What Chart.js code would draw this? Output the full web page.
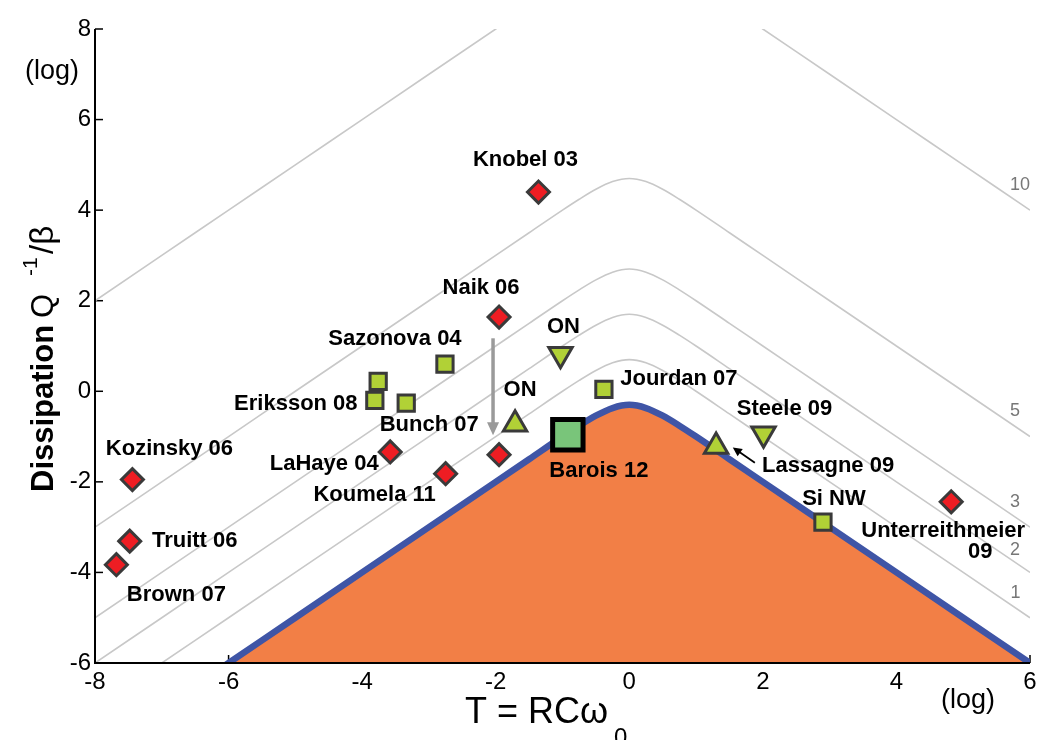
<!DOCTYPE html>
<html><head><meta charset="utf-8">
<script src="https://cdn.jsdelivr.net/npm/chart.js@4.4.0/dist/chart.umd.min.js"></script>
<style>html,body{margin:0;padding:0;background:#fff;overflow:hidden;} canvas{display:block;}</style>
</head><body>
<canvas id="c" width="1039" height="740"></canvas>
<script>
// ---------- data ----------
const xTicks = [-8, -6, -4, -2, 0, 2, 4, 6];
const yTicks = [-6, -4, -2, 0, 2, 4, 6, 8];

// x samples of the limit curve and of the iso-level curves (log T)
const curveX = [-8, -7, -6, -5, -4, -3, -2, -1.5, -1, -0.75, -0.5, -0.25, 0, 0.25, 0.5, 0.75, 1, 1.5, 2, 3, 4, 5, 6];
// limit (orange region boundary)
const limitY = [-8, -7, -6, -5, -4, -3, -2, -1.5, -1.0, -0.76, -0.54, -0.37, -0.30, -0.37, -0.54, -0.76, -1.0, -1.5, -2, -3, -4, -5, -6];
// grey iso-level curves, labelled 1, 2, 3, 5, 10
const level1Y = [-7, -6, -5, -4, -3, -2, -1, -0.5, 0.0, 0.24, 0.46, 0.63, 0.70, 0.63, 0.46, 0.24, 0.0, -0.5, -1, -2, -3, -4, -5];
const level2Y = [-6, -5, -4, -3, -2, -1, 0, 0.5, 1.0, 1.24, 1.46, 1.63, 1.70, 1.63, 1.46, 1.24, 1.0, 0.5, 0, -1, -2, -3, -4];
const level3Y = [-5, -4, -3, -2, -1, 0, 1, 1.5, 2.0, 2.24, 2.46, 2.63, 2.70, 2.63, 2.46, 2.24, 2.0, 1.5, 1, 0, -1, -2, -3];
const level5Y = [-3, -2, -1, 0, 1, 2, 3, 3.5, 4.0, 4.24, 4.46, 4.63, 4.70, 4.63, 4.46, 4.24, 4.0, 3.5, 3, 2, 1, 0, -1];
const level10Y = [2, 3, 4, 5, 6, 7, 8, 8.5, 9.0, 9.24, 9.46, 9.63, 9.70, 9.63, 9.46, 9.24, 9.0, 8.5, 8, 7, 6, 5, 4];
const levelNames = ['1', '2', '3', '5', '10'];

// experiments
const diamondNames = ['Knobel 03', 'Naik 06', 'Naik 06 b', 'LaHaye 04', 'Koumela 11', 'Kozinsky 06', 'Truitt 06', 'Brown 07', 'Unterreithmeier 09'];
const diamondX = [-1.36, -1.95, -1.95, -3.58, -2.75, -7.44, -7.48, -7.68, 4.82];
const diamondY = [4.40, 1.64, -1.40, -1.34, -1.82, -1.95, -3.31, -3.83, -2.44];

const squareNames = ['Sazonova 04', 'Eriksson 08 a', 'Eriksson 08 b', 'Bunch 07', 'Jourdan 07', 'Si NW'];
const squareX = [-2.76, -3.76, -3.81, -3.34, -0.38, 2.90];
const squareY = [0.60, 0.22, -0.20, -0.26, 0.04, -2.89];

const upNames = ['ON', 'Lassagne 09'];
const upX = [-1.71, 1.30];
const upY = [-0.73, -1.22];

const downNames = ['ON', 'Steele 09'];
const downX = [-1.03, 2.01];
const downY = [0.82, -0.94];

const baroisX = [-0.92];
const baroisY = [-0.96];

// Naik arrow (before -> after) and Lassagne pointer, in data units
const naikArrow = [[-2.04, 1.17], [-2.04, -0.97]];
const lassArrow = [[1.88, -1.58], [1.55, -1.24]];

// ---------- styling / annotation placement (pixel offsets from marker) ----------
const pointLabels = [
  {t: 'Knobel 03', s: 'd', i: 0, dx: -13, dy: -32},
  {t: 'Naik 06', s: 'd', i: 1, dx: -18, dy: -29},
  {t: 'LaHaye 04', s: 'd', i: 3, dx: -66, dy: 12},
  {t: 'Koumela 11', s: 'd', i: 4, dx: -71, dy: 21},
  {t: 'Kozinsky 06', s: 'd', i: 5, dx: 37, dy: -31},
  {t: 'Truitt 06', s: 'd', i: 6, dx: 65, dy: 0},
  {t: 'Brown 07', s: 'd', i: 7, dx: 60, dy: 30},
  {t: 'Unterreithmeier', s: 'd', i: 8, dx: -8, dy: 29},
  {t: '09', s: 'd', i: 8, dx: 29, dy: 50},
  {t: 'Sazonova 04', s: 'q', i: 0, dx: -50, dy: -25},
  {t: 'Eriksson 08', s: 'q', i: 2, dx: -79, dy: 4},
  {t: 'Bunch 07', s: 'q', i: 3, dx: 23, dy: 22},
  {t: 'Jourdan 07', s: 'q', i: 4, dx: 75, dy: -11},
  {t: 'Si NW', s: 'q', i: 5, dx: 11, dy: -23},
  {t: 'ON', s: 'u', i: 0, dx: 5, dy: -34},
  {t: 'Lassagne 09', s: 'u', i: 1, dx: 112, dy: 19},
  {t: 'ON', s: 'v', i: 0, dx: 3, dy: -27},
  {t: 'Steele 09', s: 'v', i: 1, dx: 21, dy: -25},
  {t: 'Barois 12', s: 'b', i: 0, dx: 31, dy: 36}
];
const levelLabelPos = [[1015.5, 593], [1015, 550], [1015, 502], [1015, 411], [1020, 185]];

const FONT = "'Liberation Sans', Arial, sans-serif";
const pts = (xs, ys) => xs.map((x, i) => ({x, y: ys[i]}));
const sets = {d: [diamondX, diamondY], q: [squareX, squareY], u: [upX, upY], v: [downX, downY], b: [baroisX, baroisY]};

const grey = (ys) => ({data: pts(curveX, ys), borderColor: '#c8c8c8', borderWidth: 1.6, pointRadius: 0,
  cubicInterpolationMode: 'monotone', fill: false, order: 10});
const GREEN = '#b1d136', EDGE = '#3a3a3a';
const marker = (xs, ys, style, r, bg, bc, bw, rot) => ({data: pts(xs, ys), showLine: false, pointStyle: style,
  pointRadius: r, pointHoverRadius: r, pointBackgroundColor: bg, pointBorderColor: bc, pointBorderWidth: bw,
  pointRotation: rot || 0, order: 1});

function arrow(ctx, x1, y1, x2, y2, color, lw, hl, hw) {
  const a = Math.atan2(y2 - y1, x2 - x1);
  ctx.strokeStyle = color; ctx.fillStyle = color; ctx.lineWidth = lw;
  ctx.beginPath(); ctx.moveTo(x1, y1);
  ctx.lineTo(x2 - hl * 0.8 * Math.cos(a), y2 - hl * 0.8 * Math.sin(a)); ctx.stroke();
  ctx.beginPath(); ctx.moveTo(x2, y2);
  ctx.lineTo(x2 - hl * Math.cos(a) + hw * Math.sin(a), y2 - hl * Math.sin(a) - hw * Math.cos(a));
  ctx.lineTo(x2 - hl * Math.cos(a) - hw * Math.sin(a), y2 - hl * Math.sin(a) + hw * Math.cos(a));
  ctx.closePath(); ctx.fill();
}

const deco = {
  id: 'deco',
  beforeDatasetsDraw(chart) {
    const {ctx, chartArea: a, scales: {x, y}} = chart;
    ctx.save(); ctx.strokeStyle = '#000'; ctx.lineWidth = 1.5;
    yTicks.forEach(v => { const p = y.getPixelForValue(v); ctx.beginPath(); ctx.moveTo(a.left, p); ctx.lineTo(a.left + 8, p); ctx.stroke(); });
    xTicks.forEach(v => { const p = x.getPixelForValue(v); ctx.beginPath(); ctx.moveTo(p, a.bottom); ctx.lineTo(p, a.bottom - 8); ctx.stroke(); });
    ctx.restore();
  },
  afterDatasetsDraw(chart) {
    const {ctx, chartArea: a, scales: {x, y}} = chart;
    ctx.save();
    // axes lines
    ctx.strokeStyle = '#000'; ctx.lineWidth = 2;
    ctx.beginPath(); ctx.moveTo(a.left, a.top); ctx.lineTo(a.left, a.bottom); ctx.lineTo(a.right, a.bottom); ctx.stroke();
    // arrows
    arrow(ctx, x.getPixelForValue(naikArrow[0][0]), y.getPixelForValue(naikArrow[0][1]),
      x.getPixelForValue(naikArrow[1][0]), y.getPixelForValue(naikArrow[1][1]), '#9a9a9a', 3.5, 13, 6);
    arrow(ctx, x.getPixelForValue(lassArrow[0][0]), y.getPixelForValue(lassArrow[0][1]),
      x.getPixelForValue(lassArrow[1][0]), y.getPixelForValue(lassArrow[1][1]), '#000', 1.8, 9, 4.5);
    // level labels
    ctx.fillStyle = '#777'; ctx.font = '18px ' + FONT; ctx.textAlign = 'center'; ctx.textBaseline = 'middle';
    levelNames.forEach((t, i) => ctx.fillText(t, levelLabelPos[i][0], levelLabelPos[i][1]));
    // point labels
    ctx.fillStyle = '#000'; ctx.font = 'bold 22px ' + FONT;
    pointLabels.forEach(l => {
      const [xs, ys] = sets[l.s];
      const px = x.getPixelForValue(xs[l.i]), py = y.getPixelForValue(ys[l.i]);
      ctx.fillText(l.t, px + l.dx, py + l.dy);
    });
    ctx.restore();
  },
  afterDraw(chart) {
    const {ctx} = chart;
    ctx.save(); ctx.fillStyle = '#000'; ctx.textBaseline = 'alphabetic'; ctx.textAlign = 'left';
    // y title
    ctx.save(); ctx.translate(53, 492); ctx.rotate(-Math.PI / 2);
    ctx.font = 'bold 31px ' + FONT; ctx.fillText('Dissipation', 0, 0);
    ctx.font = '31px ' + FONT; ctx.fillText('Q', 174, 0);
    ctx.font = '21px ' + FONT; ctx.fillText('-1', 216, -16);
    ctx.font = '33px ' + FONT; ctx.fillText('/β', 238, 0);
    ctx.restore();
    // x title
    ctx.font = '36px ' + FONT; ctx.fillText('T = RCω', 465, 723);
    ctx.font = '24px ' + FONT; ctx.fillText('0', 614, 745);
    // (log)
    ctx.font = '27px ' + FONT; ctx.textAlign = 'center'; ctx.textBaseline = 'middle';
    ctx.fillText('(log)', 52, 72);
    ctx.fillText('(log)', 968, 701);
    ctx.restore();
  }
};

new Chart(document.getElementById('c'), {
  type: 'line',
  data: {
    datasets: [
      marker(baroisX, baroisY, 'rect', 21.5, '#79c57a', '#000', 5),
      marker(diamondX, diamondY, 'rectRot', 11, '#ee1d23', EDGE, 3),
      marker(squareX, squareY, 'rect', 11.5, GREEN, EDGE, 3),
      marker(upX, upY, 'triangle', 13.5, GREEN, EDGE, 3),
      marker(downX, downY, 'triangle', 13.5, GREEN, EDGE, 3, 180),
      {data: pts(curveX, limitY), borderColor: '#3f55a6', borderWidth: 6.5, pointRadius: 0,
        cubicInterpolationMode: 'monotone', fill: 'start', backgroundColor: '#f27f46', order: 5},
      grey(level1Y), grey(level2Y), grey(level3Y), grey(level5Y), grey(level10Y)
    ]
  },
  options: {
    responsive: false, animation: false, devicePixelRatio: 1,
    layout: {autoPadding: false, padding: {top: 29, right: 9, left: 0, bottom: 0}},
    plugins: {legend: {display: false}, tooltip: {enabled: false}},
    events: [],
    scales: {
      x: {type: 'linear', min: -8, max: 6,
        afterBuildTicks: s => { s.ticks = xTicks.map(v => ({value: v})); },
        afterFit: s => { s.height = 77; s.paddingLeft = 0; s.paddingRight = 0; },
        grid: {display: false, drawTicks: false}, border: {display: false},
        ticks: {padding: 5, color: '#000', font: {family: FONT, size: 24}}},
      y: {type: 'linear', min: -6, max: 8,
        afterBuildTicks: s => { s.ticks = yTicks.map(v => ({value: v})); },
        afterFit: s => { s.width = 95; s.paddingTop = 0; s.paddingBottom = 0; },
        grid: {display: false, drawTicks: false}, border: {display: false},
        ticks: {padding: 4, color: '#000', font: {family: FONT, size: 24}}}
    }
  },
  plugins: [deco]
});
</script>
</body></html>
